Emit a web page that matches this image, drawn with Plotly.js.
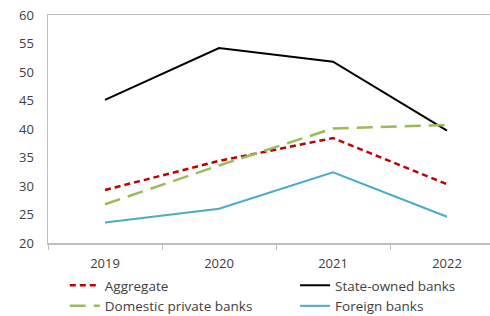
<!DOCTYPE html>
<html><head><meta charset="utf-8">
<script src="https://cdn.plot.ly/plotly-3.0.1.min.js"></script>
<style>html,body{margin:0;padding:0;background:#fff}#c{width:490px;height:316px}</style>
</head><body><div id="c"></div>
<script>
const years = ["2019", "2020", "2021", "2022"];
const aggregate = [29.3, 34.4, 38.4, 30.3];
const stateOwned = [45.1, 54.2, 51.8, 39.7];
const domesticPrivate = [26.8, 33.6, 40.1, 40.7];
const foreign = [23.6, 26.0, 32.4, 24.6];
const seriesNames = ["Aggregate", "State-owned banks", "Domestic private banks", "Foreign banks"];

const font = {family: "Open Sans, Noto Sans, sans-serif", size: 13, color: "#404040"};
const legendFont = {family: "Open Sans, Noto Sans, sans-serif", size: 13.5, color: "#404040"};
const traces = [
  {x: years, y: aggregate, name: seriesNames[0], legend: "legend", mode: "lines", line: {color: "#c00000", width: 2.5, dash: "6px,4px"}},
  {x: years, y: stateOwned, name: seriesNames[1], legend: "legend2", mode: "lines", line: {color: "#000000", width: 2}},
  {x: years, y: domesticPrivate, name: seriesNames[2], legend: "legend", mode: "lines", line: {color: "#9bbb59", width: 2.5, dash: "16px,8px"}},
  {x: years, y: foreign, name: seriesNames[3], legend: "legend2", mode: "lines", line: {color: "#4bacc6", width: 2}}
];
const legendBase = {orientation: "v", xanchor: "left", xref: "paper", yref: "container",
  y: 0.1456, yanchor: "top",
  itemwidth: 30, tracegroupgap: 0, font: legendFont, bgcolor: "rgba(0,0,0,0)", traceorder: "normal"};
const layout = {
  width: 490, height: 316,
  margin: {l: 48, r: 0, t: 15, b: 73},
  paper_bgcolor: "#fff", plot_bgcolor: "#fff",
  font: font,
  showlegend: true,
  legend: Object.assign({}, legendBase, {x: 0.038}),
  legend2: Object.assign({}, legendBase, {x: 0.559}),
  xaxis: {type: "category", range: [-0.5, 3.377], showgrid: false, zeroline: false,
          showline: true, linecolor: "#bfbfbf", linewidth: 1.5, mirror: true,
          ticks: "outside", tickson: "boundaries", ticklen: 5, tickcolor: "#bfbfbf",
          ticklabelstandoff: 8, tickfont: font, fixedrange: true},
  yaxis: {range: [20, 60], dtick: 5, showgrid: false, zeroline: false,
          showline: true, linecolor: "#bfbfbf", linewidth: 1.5,
          ticks: "", ticklabelstandoff: 10, tickfont: font, fixedrange: true}
};
Plotly.newPlot("c", traces, layout, {displayModeBar: false, staticPlot: true});
</script></body></html>
